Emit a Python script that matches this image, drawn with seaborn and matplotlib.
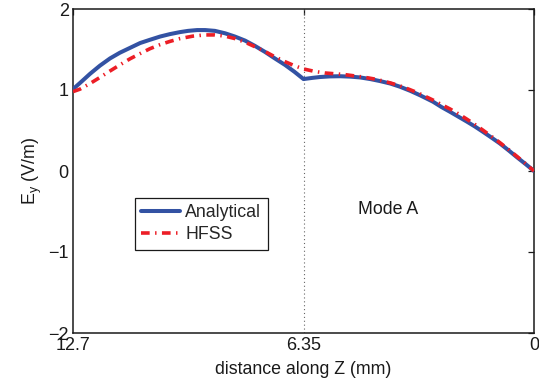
import matplotlib
matplotlib.use("Agg")
import matplotlib.pyplot as plt
import seaborn as sns
import pandas as pd

# ---- data ----
z_analytical = [12.70, 12.45, 12.23, 11.96, 11.68, 11.41, 11.13, 10.85, 10.58, 10.30, 10.03, 9.75,
                9.53, 9.28, 9.06, 8.79, 8.51, 8.24, 7.96, 7.69, 7.41, 7.14, 6.86, 6.60, 6.35,
                6.10, 5.90, 5.62, 5.34, 5.06, 4.79, 4.51, 4.24, 3.96, 3.69, 3.41, 3.14, 2.78,
                2.55, 2.31, 2.08, 1.85, 1.63, 1.41, 1.18, 0.94, 0.70, 0.47, 0.23, 0.0]
ey_analytical = [1.01, 1.11, 1.20, 1.30, 1.39, 1.46, 1.52, 1.58, 1.62, 1.66, 1.69, 1.715,
                 1.73, 1.74, 1.74, 1.73, 1.70, 1.66, 1.61, 1.545, 1.47, 1.39, 1.31, 1.225, 1.135,
                 1.15, 1.16, 1.168, 1.17, 1.165, 1.155, 1.135, 1.11, 1.08, 1.04, 0.99, 0.935, 0.855,
                 0.79, 0.73, 0.67, 0.61, 0.55, 0.485, 0.415, 0.34, 0.255, 0.17, 0.085, 0.0]
z_hfss = [12.70, 12.51, 12.23, 11.96, 11.68, 11.41, 11.13, 10.85, 10.58, 10.30, 10.03, 9.75,
          9.40, 9.06, 8.79, 8.51, 8.24, 7.96, 7.69, 7.41, 7.14, 6.86, 6.60, 6.35,
          6.05, 5.76, 5.48, 5.21, 4.96, 4.71, 4.45, 4.19, 3.94, 3.69, 3.45, 3.20, 2.99, 2.78,
          2.55, 2.31, 2.08, 1.85, 1.63, 1.41, 1.18, 0.94, 0.70, 0.47, 0.23, 0.0]
ey_hfss = [0.98, 1.01, 1.08, 1.155, 1.235, 1.31, 1.385, 1.45, 1.51, 1.56, 1.60, 1.635,
           1.665, 1.68, 1.68, 1.665, 1.635, 1.59, 1.535, 1.475, 1.41, 1.35, 1.30, 1.26,
           1.23, 1.21, 1.20, 1.19, 1.175, 1.16, 1.14, 1.115, 1.085, 1.05, 1.01, 0.965, 0.92, 0.875,
           0.82, 0.765, 0.705, 0.64, 0.575, 0.505, 0.43, 0.35, 0.265, 0.18, 0.09, 0.0]
series_names = ["Analytical", "HFSS"]
x_ticks = [12.7, 6.35, 0]
x_tick_labels = ["12.7", "6.35", "0"]
y_ticks = [-2, -1, 0, 1, 2]
boundary_z = 6.35
annotation = "Mode A"

df_a = pd.DataFrame({"z": z_analytical, "ey": ey_analytical})
df_h = pd.DataFrame({"z": z_hfss, "ey": ey_hfss})

sns.set_style("white")
plt.rcParams["font.family"] = ["Liberation Sans", "DejaVu Sans"]
plt.rcParams["mathtext.fontset"] = "custom"
plt.rcParams["mathtext.rm"] = "Liberation Sans"

fig = plt.figure(figsize=(5.39, 3.83), dpi=100)
ax = fig.add_axes([73 / 539, 50 / 383, 461 / 539, 324 / 383])

ax.axvline(boundary_z, color="#666666", lw=0.8, ls=(0, (1, 2.5)), zorder=1)

sns.lineplot(data=df_a, x="z", y="ey", ax=ax, sort=False, estimator=None,
             color="#3352a3", lw=2.9, label=series_names[0], zorder=3)
sns.lineplot(data=df_h, x="z", y="ey", ax=ax, sort=False, estimator=None,
             color="#ec1e26", lw=2.6, label=series_names[1], zorder=4,
             linestyle=(0, (2.4, 1.5, 0.4, 1.5)))

ax.set_xlim(12.7, 0)
ax.set_ylim(-2, 2)
ax.set_xticks(x_ticks)
ax.set_xticklabels(x_tick_labels)
ax.set_yticks(y_ticks)

for s in ax.spines.values():
    s.set_visible(True)
    s.set_color("#1a1a1a")
    s.set_linewidth(1.1)
ax.tick_params(direction="in", length=4, width=0.9, top=True, right=True,
               labelsize=13, colors="#1a1a1a", pad=3)
ax.tick_params(axis="x", pad=3)

ax.set_xlabel("distance along Z (mm)", fontsize=12.8, labelpad=5, color="#1a1a1a")
ax.set_ylabel(r"E$_\mathregular{y}$ (V/m)", fontsize=12.8, labelpad=3, color="#1a1a1a")

ax.text(4.85, -0.47, annotation, fontsize=12.8, ha="left", va="center", color="#1a1a1a")

leg = ax.legend(loc="upper left", bbox_to_anchor=(0.134, 0.417), fontsize=12.8,
                frameon=True, fancybox=False, handlelength=2.2, handletextpad=0.3,
                borderpad=0.35, labelspacing=0.3, borderaxespad=0)
leg.get_frame().set_edgecolor("#1a1a1a")
leg.get_frame().set_linewidth(0.9)
leg.get_frame().set_alpha(1)

fig.savefig("out.png", dpi=100)
